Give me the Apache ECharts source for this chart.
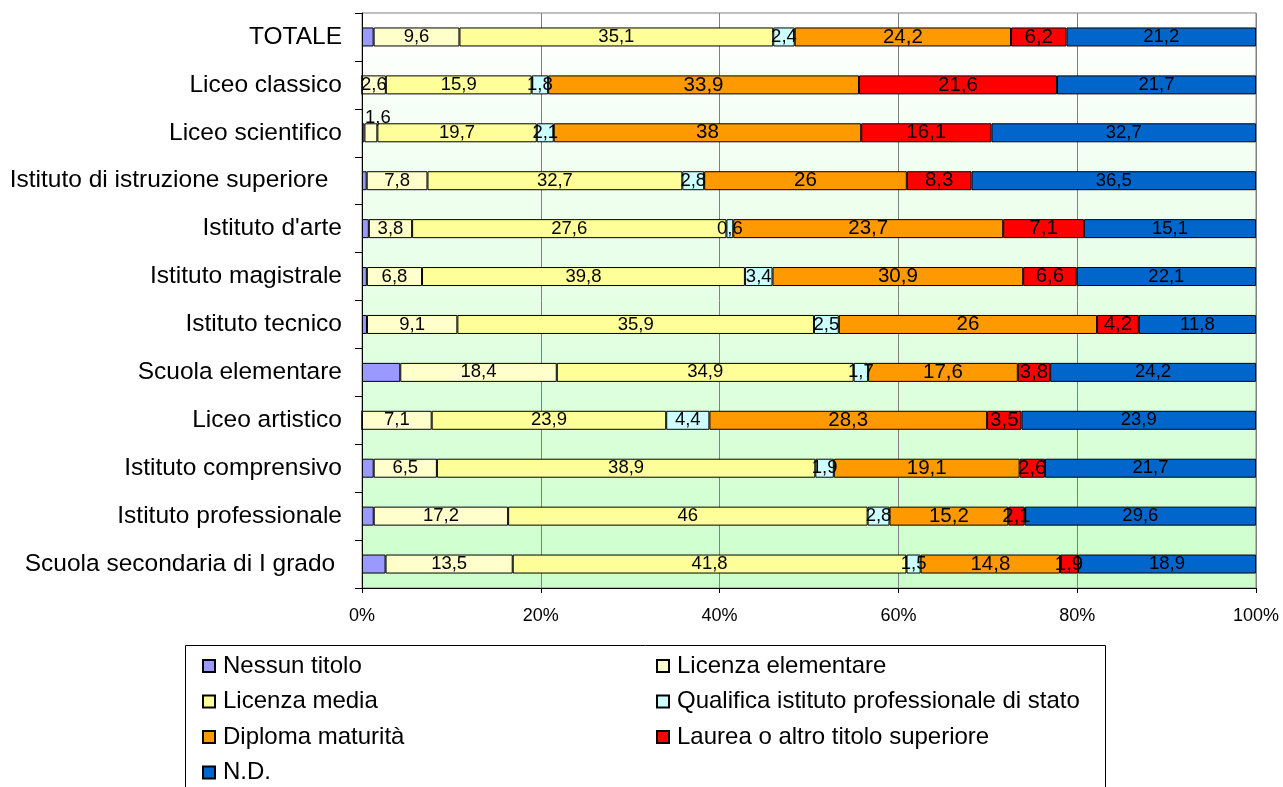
<!DOCTYPE html>
<html>
<head>
<meta charset="utf-8">
<script src="https://cdn.jsdelivr.net/npm/echarts@6/dist/echarts.min.js"></script>
<style>
  html, body { margin: 0; padding: 0; background: #fff; }
  #chart { width: 1283px; height: 787px; }
</style>
</head>
<body>
<div id="chart"></div>
<script>
// categories, top to bottom
var categories = ['TOTALE', 'Liceo classico', 'Liceo scientifico', 'Istituto di istruzione superiore  ',
  "Istituto d'arte", 'Istituto magistrale', 'Istituto tecnico', 'Scuola elementare', 'Liceo artistico',
  'Istituto comprensivo', 'Istituto professionale', 'Scuola secondaria di I grado '];

var seriesNames = ['Nessun titolo', 'Licenza elementare', 'Licenza media',
  'Qualifica istituto professionale di stato', 'Diploma maturità', 'Laurea o altro titolo superiore', 'N.D.'];

// raw values (rows do not always add up to 100, the chart stretches each one to 100%)
var nessun    = [1.3, 0, 0.3, 0.6, 0.6, 0.6, 0.5, 4.5, 0, 1.2, 1.5, 2.5];
var licElem   = [9.6, 2.6, 1.6, 7.8, 3.8, 6.8, 9.1, 18.4, 7.1, 6.5, 17.2, 13.5];
var licMedia  = [35.1, 15.9, 19.7, 32.7, 27.6, 39.8, 35.9, 34.9, 23.9, 38.9, 46, 41.8];
var qualifica = [2.4, 1.8, 2.1, 2.8, 0.6, 3.4, 2.5, 1.7, 4.4, 1.9, 2.8, 1.5];
var diploma   = [24.2, 33.9, 38, 26, 23.7, 30.9, 26, 17.6, 28.3, 19.1, 15.2, 14.8];
var laurea    = [6.2, 21.6, 16.1, 8.3, 7.1, 6.6, 4.2, 3.8, 3.5, 2.6, 2.1, 1.9];
var nd        = [21.2, 21.7, 32.7, 36.5, 15.1, 22.1, 11.8, 24.2, 23.9, 21.7, 29.6, 18.9];

var xTicks = [0, 20, 40, 60, 80, 100];

var colors = ['#9999FF', '#FFFFCC', '#FFFF99', '#CCFFFF', '#FF9900', '#FF0000', '#0066CC'];
var labelSizes = [0, 18.5, 18.5, 18.5, 20.5, 20.5, 18.5];

var allRows = [nessun, licElem, licMedia, qualifica, diploma, laurea, nd];
var totals = categories.map(function (c, i) {
  var s = 0;
  for (var k = 0; k < allRows.length; k++) s += allRows[k][i];
  return s;
});

function fmt(v) { return String(v).replace('.', ','); }

var series = allRows.map(function (row, k) {
  return {
    name: seriesNames[k],
    type: 'bar',
    stack: 'tot',
    barWidth: 19,
    itemStyle: { color: colors[k], borderColor: '#000', borderWidth: 1 },
    label: {
      show: k > 0,
      position: 'inside',
      color: '#000',
      fontSize: labelSizes[k],
      fontFamily: 'Liberation Sans, Arial',
      formatter: function (p) { return fmt(p.data.raw); }
    },
    data: row.map(function (v, i) {
      var item = { value: v / totals[i] * 100, raw: v };
      // the small 1,6 of Liceo scientifico sits over the bar
      if (k === 1 && i === 2) item.label = { position: 'top', distance: -4, offset: [7, 0] };
      return item;
    })
  };
});

var dom = document.getElementById('chart');
var myChart = echarts.init(dom);
var option = {
  backgroundColor: '#fff',
  animation: false,
  textStyle: { fontFamily: 'Liberation Sans, Arial' },
  grid: {
    left: 362, right: 27, top: 13, bottom: 199,
    show: true,
    borderColor: '#808080',
    borderWidth: 1,
    backgroundColor: new echarts.graphic.LinearGradient(0, 0, 0, 1, [
      { offset: 0, color: '#FFFFFF' },
      { offset: 1, color: '#CCFFCC' }
    ])
  },
  xAxis: {
    type: 'value',
    min: xTicks[0], max: xTicks[xTicks.length - 1], interval: 20,
    axisLine: { show: true, lineStyle: { color: '#000', width: 1 } },
    axisTick: { show: true, length: 5, lineStyle: { color: '#000' } },
    splitLine: { show: true, lineStyle: { color: '#808080', width: 1 } },
    axisLabel: { color: '#000', fontSize: 18, margin: 19, formatter: '{value}%' }
  },
  yAxis: {
    type: 'category',
    inverse: true,
    data: categories,
    axisLine: { show: true, lineStyle: { color: '#000', width: 1 } },
    axisTick: { show: true, length: 7, lineStyle: { color: '#000' } },
    axisLabel: { color: '#000', fontSize: 24.5, margin: 20 }
  },
  legend: {
    left: 197, top: 649, width: 920,
    orient: 'horizontal',
    itemWidth: 12, itemHeight: 12, itemGap: 11.5,
    icon: 'rect',
    data: seriesNames,
    textStyle: { color: '#000', fontSize: 24, width: 421.5, lineHeight: 22.5, padding: [0, 0, 0, 3],
      fontFamily: 'Liberation Sans, Arial' }
  },
  graphic: [{
    type: 'rect',
    shape: { x: 185.5, y: 645.5, width: 920, height: 200 },
    style: { fill: 'none', stroke: '#000', lineWidth: 1 },
    silent: true
  }],
  series: series
};
if (option && typeof option === 'object') {
  myChart.setOption(option, true);
}
</script>
</body>
</html>
